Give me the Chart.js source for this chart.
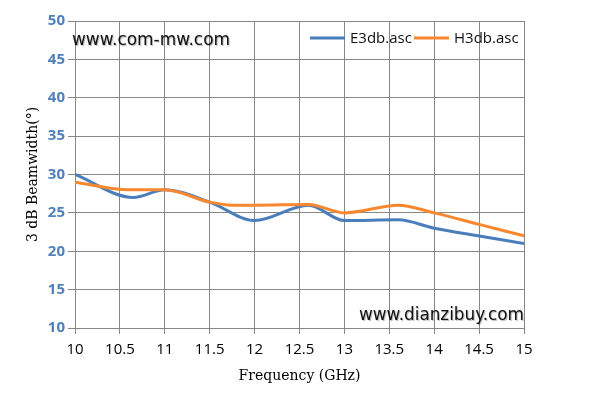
<!DOCTYPE html>
<html>
<head>
<meta charset="utf-8">
<script src="https://cdn.jsdelivr.net/npm/chart.js@4/dist/chart.umd.min.js"></script>
<style>
  html, body { margin: 0; padding: 0; background: #fff; }
  #wrap { width: 597px; height: 411px; }
</style>
</head>
<body>
<div id="wrap"><canvas id="beamChart" width="597" height="411"></canvas></div>
<script>
// Values (frequency in GHz, beamwidth in degrees)
const freqE = [10, 10.65, 11, 11.5, 12, 12.6, 13, 13.6, 14, 14.5, 15];
const e3db  = [30, 27.0, 28, 26.4, 24, 26.0, 24.0, 24.1, 23, 22, 21];

const freqH = [10, 10.6, 11, 11.5, 11.75, 12, 12.6, 13, 13.6, 14, 14.5, 15];
const h3db  = [29, 28.0, 28, 26.4, 26.0, 26.0, 26.1, 25, 26.0, 25, 23.5, 22];

const xTicks = [10, 10.5, 11, 11.5, 12, 12.5, 13, 13.5, 14, 14.5, 15];
const yTicks = [10, 15, 20, 25, 30, 35, 40, 45, 50];

const seriesNames = ['E3db.asc', 'H3db.asc'];
const BLUE = '#4A7EBB';
const ORANGE = '#F7882F';
const GRID = '#878787';

function toPoints(xs, ys) {
    return xs.map((x, i) => ({ x: x, y: ys[i] }));
}

// Legend and the two site captions drawn inside the plot area
const overlayPlugin = {
    id: 'overlay',
    afterDatasetsDraw(chart) {
        const ctx = chart.ctx;
        const area = chart.chartArea;
        ctx.save();

        // site captions
        ctx.fillStyle = '#111';
        ctx.textBaseline = 'alphabetic';
        ctx.textAlign = 'left';
        ctx.shadowColor = 'rgba(0,0,0,0.3)';
        ctx.shadowOffsetX = 1;
        ctx.shadowOffsetY = 1;
        ctx.shadowBlur = 1;
        ctx.font = '18px "DejaVu Sans"';
        ctx.fillText('www.com-mw.com', area.left - 3, area.top + 24, 158);
        ctx.fillText('www.dianzibuy.com', area.right - 165, area.bottom - 8, 165);
        ctx.shadowColor = 'transparent';

        // legend
        ctx.font = '15px "Open Sans"';
        ctx.textBaseline = 'middle';
        const ly = area.top + 17;
        const items = [
            { label: seriesNames[0], color: BLUE, x: area.right - 214 },
            { label: seriesNames[1], color: ORANGE, x: area.right - 110 }
        ];
        items.forEach(it => {
            ctx.strokeStyle = it.color;
            ctx.lineWidth = 3;
            ctx.beginPath();
            ctx.moveTo(it.x, ly);
            ctx.lineTo(it.x + 35, ly);
            ctx.stroke();
            ctx.fillStyle = '#111';
            ctx.fillText(it.label, it.x + 40, ly + 1);
        });
        ctx.restore();
    }
};

const ctx = document.getElementById('beamChart').getContext('2d');
const beamChart = new Chart(ctx, {
    type: 'line',
    data: {
        datasets: [
            {
                label: seriesNames[0],
                data: toPoints(freqE, e3db),
                borderColor: BLUE,
                borderWidth: 3,
                pointRadius: 0,
                cubicInterpolationMode: 'monotone',
                fill: false,
                order: 1
            },
            {
                label: seriesNames[1],
                data: toPoints(freqH, h3db),
                borderColor: ORANGE,
                borderWidth: 3,
                pointRadius: 0,
                cubicInterpolationMode: 'monotone',
                fill: false,
                order: 0
            }
        ]
    },
    options: {
        responsive: false,
        animation: false,
        devicePixelRatio: 1,
        layout: {
            padding: { top: 21, right: 73, bottom: 0, left: 0 }
        },
        plugins: {
            legend: { display: false },
            tooltip: { enabled: false }
        },
        scales: {
            x: {
                type: 'linear',
                min: 10,
                max: 15,
                afterBuildTicks: (scale) => {
                    scale.ticks = xTicks.map(v => ({ value: v }));
                },
                afterFit: (scale) => { scale.height = 83; },
                grid: {
                    color: GRID,
                    lineWidth: 1,
                    tickLength: 6,
                    drawTicks: true
                },
                border: { color: GRID, width: 1 },
                ticks: {
                    color: '#000',
                    font: { family: '"Open Sans"', size: 15 },
                    padding: 7,
                    maxRotation: 0,
                    autoSkip: false,
                    callback: (value) => String(Number(value))
                },
                title: {
                    display: true,
                    text: 'Frequency (GHz)',
                    color: '#000',
                    font: { family: '"DejaVu Serif"', size: 14 },
                    padding: { top: 0, bottom: 26 }
                }
            },
            y: {
                type: 'linear',
                min: 10,
                max: 50,
                afterBuildTicks: (scale) => {
                    scale.ticks = yTicks.map(v => ({ value: v }));
                },
                afterFit: (scale) => { scale.width = 75; },
                grid: {
                    color: GRID,
                    lineWidth: 1,
                    tickLength: 7,
                    drawTicks: true
                },
                border: { color: GRID, width: 1 },
                ticks: {
                    color: '#4F81BD',
                    font: { family: '"Open Sans"', size: 15, weight: 'bold' },
                    padding: 3,
                    autoSkip: false
                },
                title: {
                    display: true,
                    text: '3 dB Beamwidth(°)',
                    color: '#000',
                    font: { family: '"DejaVu Serif"', size: 14 },
                    padding: { top: 25, bottom: 0 }
                }
            }
        }
    },
    plugins: [overlayPlugin]
});
</script>
</body>
</html>
